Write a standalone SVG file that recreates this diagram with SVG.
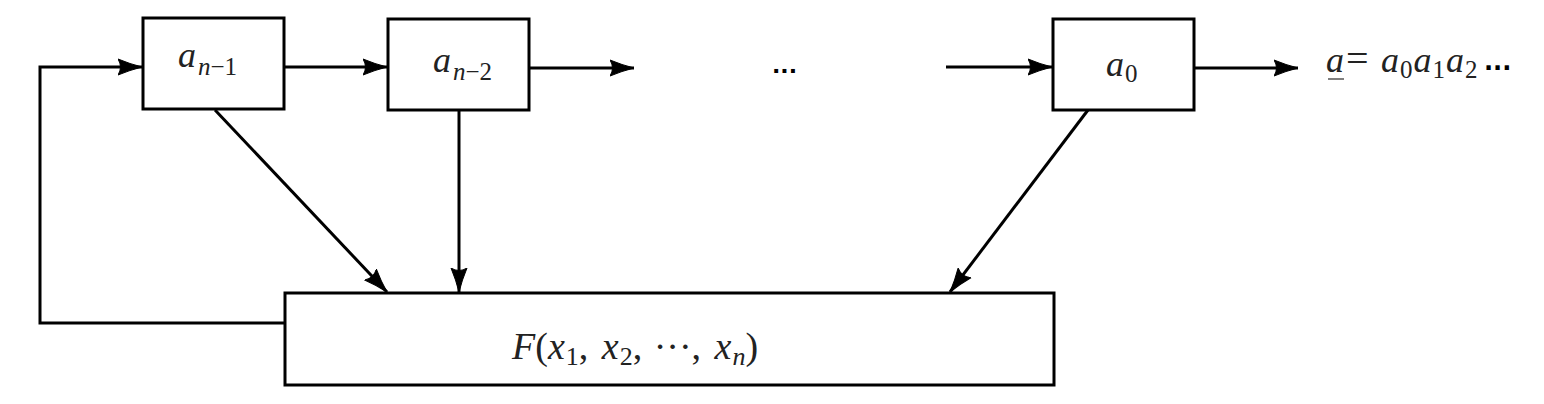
<svg xmlns="http://www.w3.org/2000/svg" width="1544" height="404" viewBox="0 0 1544 404">
<defs>
<marker id="ah" markerUnits="userSpaceOnUse" markerWidth="26" markerHeight="18" viewBox="0 0 26 18" refX="24" refY="9" orient="auto">
<path d="M0,1 Q12,6 24,9 Q12,12 0,17 Q5,9 0,1 Z" fill="#000" stroke="#000" stroke-width="1"/>
</marker>
<style>
.box{fill:#fff;stroke:#000;stroke-width:3}
.ln{fill:none;stroke:#000;stroke-width:3}
.t{font-family:"Liberation Serif","DejaVu Serif",serif;font-style:italic;fill:#222}
.u{font-family:"Liberation Serif","DejaVu Serif",serif;font-style:normal;fill:#222}
.dots{font-family:"DejaVu Sans",sans-serif;font-weight:bold;fill:#000}
</style>
</defs>
<g id="connectors">
<path class="ln" d="M285,323 H40 V67 H142" marker-end="url(#ah)"/>
<path class="ln" d="M284,67 H387" marker-end="url(#ah)"/>
<path class="ln" d="M529,68 H634" marker-end="url(#ah)"/>
<path class="ln" d="M946,67 H1052" marker-end="url(#ah)"/>
<path class="ln" d="M1194,68 H1298" marker-end="url(#ah)"/>
<path class="ln" d="M215,110 L387,292" marker-end="url(#ah)"/>
<path class="ln" d="M459,110 V292" marker-end="url(#ah)"/>
<path class="ln" d="M1088,110 L950,292" marker-end="url(#ah)"/>
</g>
<g id="node-an1">
<rect class="box" x="143" y="18" width="141" height="91"/>
<text class="t" x="178" y="67" font-size="36">a<tspan font-size="25" dy="8" dx="2">n</tspan><tspan class="u" font-size="25">−1</tspan></text>
</g>
<g id="node-an2">
<rect class="box" x="388" y="19" width="141" height="91"/>
<text class="t" x="433" y="72" font-size="36">a<tspan font-size="25" dy="8" dx="2">n</tspan><tspan class="u" font-size="25">−2</tspan></text>
</g>
<g id="dots">
<text class="dots" x="772" y="78" font-size="22">···</text>
</g>
<g id="node-a0">
<rect class="box" x="1053" y="19" width="141" height="91"/>
<text class="t" x="1106" y="76" font-size="36">a<tspan class="u" font-size="25" dy="6" dx="1">0</tspan></text>
</g>
<g id="output">
<text class="t" x="1326" y="72" font-size="36">a<tspan class="u" x="1346" font-size="40">=</tspan><tspan x="1381">a</tspan><tspan class="u" font-size="25" dy="6" dx="1">0</tspan><tspan dy="-6" dx="1">a</tspan><tspan class="u" font-size="25" dy="6" dx="1">1</tspan><tspan dy="-6" dx="1">a</tspan><tspan class="u" font-size="25" dy="6" dx="1">2</tspan></text>
<text class="dots" x="1484" y="76" font-size="24">···</text>
<line x1="1328" y1="79" x2="1344" y2="79" stroke="#555" stroke-width="1.5"/>
</g>
<g id="node-F">
<rect class="box" x="285" y="293" width="769" height="92"/>
<text class="t" x="512" y="359" font-size="38">F<tspan class="u">(</tspan>x<tspan class="u" font-size="26" dy="6" dx="1">1</tspan><tspan class="u" dy="-6">, </tspan><tspan dx="4">x</tspan><tspan class="u" font-size="26" dy="6" dx="1">2</tspan><tspan class="u" dy="-6">, </tspan><tspan class="u" dx="2">···, </tspan><tspan dx="4">x</tspan><tspan font-size="26" dy="6" dx="1">n</tspan><tspan class="u" dy="-6">)</tspan></text>
</g>
</svg>
